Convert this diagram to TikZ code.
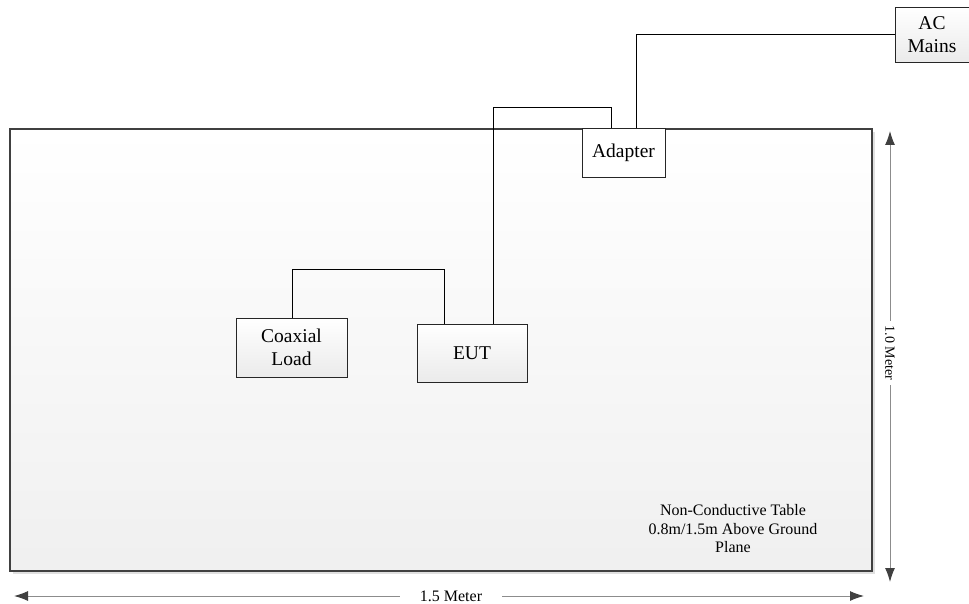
\documentclass[tikz,border=0pt]{standalone}
\usepackage{fontspec}
\setmainfont{Liberation Serif}
\usetikzlibrary{arrows.meta}
\begin{document}
\begin{tikzpicture}[x=1pt,y=-1pt,
  box/.style={draw=black!85,line width=0.8pt,inner sep=0pt,align=center,font=\fontsize{19.5}{23}\selectfont},
  gbox/.style={box,top color=white,bottom color=black!8},
  wire/.style={draw=black,line width=0.7pt},
  dim/.style={draw=black!45,line width=1pt,{Latex[length=14pt,width=10pt,color=black!75]}-{Latex[length=14pt,width=10pt,color=black!75]}},
  small/.style={font=\fontsize{16}{18.5}\selectfont,align=center}]
\useasboundingbox (0,0) rectangle (969,604);
% table
\fill[black!12] (13,132) rectangle (875,574);
\node[draw=black!75,line width=2.8pt,top color=white,bottom color=black!6,minimum width=862pt,minimum height=442pt,inner sep=0pt] (table) at (441,350) {};
% boxes
\node[box,fill=white,minimum width=83pt,minimum height=49pt] (adapter) at (623.5,152.5) {Adapter};
\node[gbox,minimum width=74pt,minimum height=55pt] (ac) at (932,34.5) {AC\\Mains};
\node[gbox,minimum width=111pt,minimum height=59pt] (coax) at (291.5,347.5) {Coaxial\\Load};
\node[gbox,minimum width=110pt,minimum height=58pt] (eut) at (472,353) {EUT};
% wires
\draw[wire] (ac.west |- 0,34) -| (adapter.north -| 636,0);
\draw[wire] (adapter.north -| 611,0) |- (493,107) -- (eut.north -| 493,0);
\draw[wire] (coax.north -| 292,0) |- (444,269) -- (eut.north -| 444,0);
% dimensions
\coordinate (vt) at (890,131);
\coordinate (vb) at (890,582);
\coordinate (hl) at (14,596);
\coordinate (hr) at (864,596);
\draw[dim] (vt) -- (vb);
\node[font=\fontsize{14}{16}\selectfont,fill=white,rotate=-90,inner xsep=5pt,inner ysep=3pt] (vlab) at (890,353) {1.0 Meter};
\draw[dim] (hl) -- (hr);
\node[small,fill=white,inner xsep=20pt,inner ysep=3pt] (hlab) at (451,596) {1.5 Meter};
\node[small] (note) at (733,529) {Non-Conductive Table\\0.8m/1.5m Above Ground\\Plane};
\end{tikzpicture}
\end{document}
